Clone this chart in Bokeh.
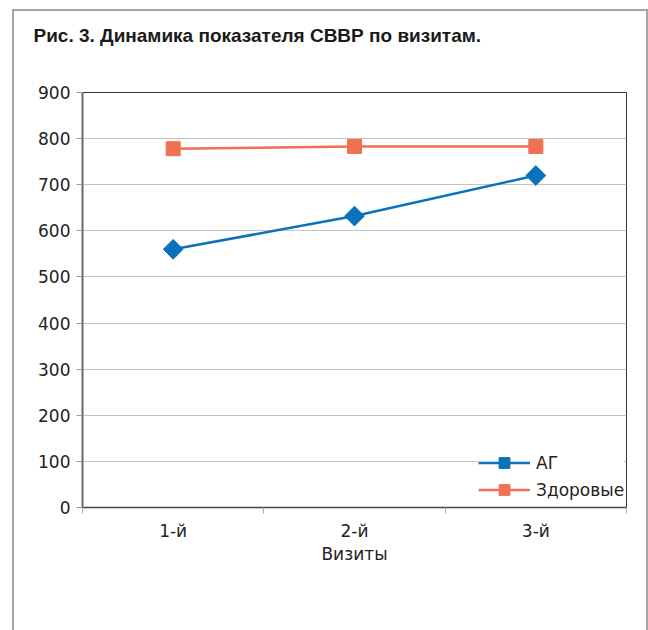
import math
from bokeh.plotting import figure
from bokeh.models import (FactorRange, Range1d, LinearAxis, FixedTicker, Legend, LegendItem,
                          CategoricalAxis, Title)
from bokeh.embed import file_html
from bokeh.resources import INLINE

visits = ["1-й", "2-й", "3-й"]
ag = [560, 632, 720]
healthy = [778, 783, 783]
y_ticks = [0, 100, 200, 300, 400, 500, 600, 700, 800, 900]
title_text = "Рис. 3. Динамика показателя СВВР по визитам."

FONT = "DejaVu Sans"

p = figure(width=632, height=619, frame_width=544, frame_height=415,
           output_backend="svg", toolbar_location=None, title=None,
           x_range=FactorRange(factors=visits, range_padding=0),
           y_range=Range1d(0, 900), x_axis_type=None,
           min_border_left=68, min_border_right=20, min_border_top=81, min_border_bottom=123)
p.margin = (11, 0, 0, 14)
# outer frame of the figure panel (drawn outside the canvas, so it is never covered)
p.styles = {"outline": "2.5px solid #a6a6a6"}

# spacer between the title and the plot frame, then the title itself
p.add_layout(Title(text=" ", text_font_size="1px", standoff=44), "above")
p.add_layout(Title(text=title_text, text_font="Liberation Sans", text_font_style="bold",
                   text_font_size="19px", text_color="#1a1a1a", offset=-49, standoff=0),
             "above")

p.outline_line_color = "#333333"
p.outline_line_width = 1
p.xgrid.visible = False
p.ygrid.grid_line_color = "#c4c4c4"
p.ygrid.grid_line_width = 1
p.ygrid.ticker = FixedTicker(ticks=y_ticks)

ya = p.yaxis[0]
ya.ticker = FixedTicker(ticks=y_ticks)
ya.axis_line_color = "#6a6a6a"
ya.axis_line_width = 2
ya.major_tick_out = 6
ya.major_tick_in = 0
ya.major_tick_line_color = "#9a9a9a"
ya.minor_tick_line_color = None
ya.major_label_text_font = FONT
ya.major_label_text_font_size = "17px"
ya.major_label_text_color = "#222222"
ya.major_label_standoff = 6

# boundary ticks between categories (synthetic coordinates of the factor range)
bax = LinearAxis(ticker=FixedTicker(ticks=list(range(len(visits) + 1))),
                 major_label_text_font_size="0px", major_label_standoff=0,
                 major_tick_out=6, major_tick_in=0, major_tick_line_color="#aaaaaa",
                 axis_line_color="#444444", axis_line_width=1.5, minor_tick_line_color=None)
p.add_layout(bax, "below")

cax = CategoricalAxis(axis_line_color=None, major_tick_line_color=None,
                      major_label_text_font=FONT, major_label_text_font_size="17px",
                      major_label_text_color="#222222", major_label_standoff=1,
                      axis_label="Визиты", axis_label_text_font=FONT,
                      axis_label_text_font_size="17px", axis_label_text_font_style="normal",
                      axis_label_text_color="#222222", axis_label_standoff=0)
p.add_layout(cax, "below")

BLUE = "#0a72bb"
ORANGE = "#f07052"

l1 = p.line(visits, ag, line_color=BLUE, line_width=2.5)
m1 = p.scatter(visits, ag, marker="square", size=14, angle=math.pi / 4,
               fill_color=BLUE, line_color=BLUE)
l2 = p.line(visits, healthy, line_color=ORANGE, line_width=2.5)
m2 = p.scatter(visits, healthy, marker="square", size=14, fill_color=ORANGE, line_color=ORANGE)

legend = Legend(items=[LegendItem(label="АГ", renderers=[l1, m1]),
                       LegendItem(label="Здоровые", renderers=[l2, m2])],
                location=(396, 4), orientation="vertical", padding=0, margin=0, spacing=0,
                glyph_width=52, glyph_height=27, label_standoff=6,
                label_text_font=FONT, label_text_font_size="17px",
                label_text_color="#222222", border_line_color=None,
                background_fill_color="white", background_fill_alpha=1)
p.add_layout(legend, "center")

open("out.html", "w").write(file_html(p, INLINE))
